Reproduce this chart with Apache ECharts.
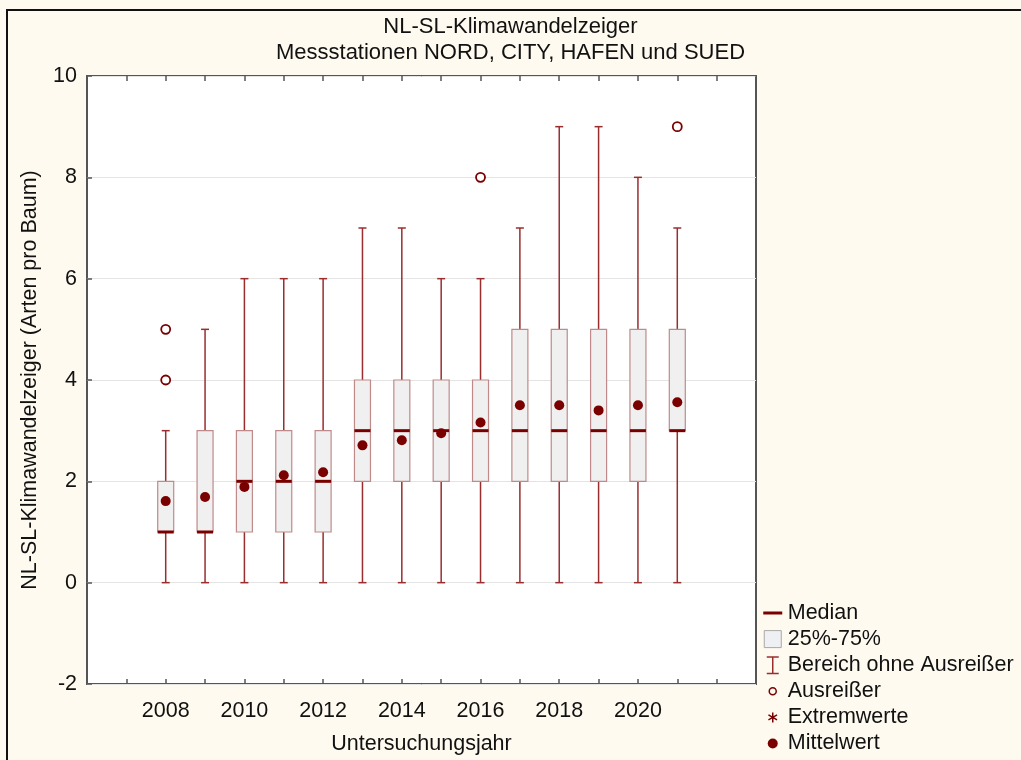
<!DOCTYPE html>
<html>
<head>
<meta charset="utf-8">
<script src="https://cdn.jsdelivr.net/npm/echarts@6/dist/echarts.min.js"></script>
<style>
  html, body { margin: 0; padding: 0; background: #fefaf0; }
  #chart { width: 1021px; height: 760px; }
</style>
</head>
<body>
<div id="chart"></div>
<script>
// Untersuchungsjahre und Kennwerte je Jahr
const years = [2008, 2009, 2010, 2011, 2012, 2013, 2014, 2015, 2016, 2017, 2018, 2019, 2020, 2021]
const mins = [0, 0, 0, 0, 0, 0, 0, 0, 0, 0, 0, 0, 0, 0]
const q1s = [1, 1, 1, 1, 1, 2, 2, 2, 2, 2, 2, 2, 2, 3]
const medians = [1, 1, 2, 2, 2, 3, 3, 3, 3, 3, 3, 3, 3, 3]
const q3s = [2, 3, 3, 3, 3, 4, 4, 4, 4, 5, 5, 5, 5, 5]
const maxs = [3, 5, 6, 6, 6, 7, 7, 6, 6, 7, 9, 9, 8, 7]
const means = [1.61, 1.69, 1.89, 2.12, 2.18, 2.71, 2.81, 2.95, 3.16, 3.5, 3.5, 3.4, 3.5, 3.56]
const outliers = [[2008, 4], [2008, 5], [2016, 8], [2021, 9]]
const extremes = []
const yTicks = [-2, 0, 2, 4, 6, 8, 10]

const font = 'Liberation Sans, Arial, sans-serif'
const fs = 21.5
const dark = '#7a0000'
const whisker = '#9a2e2e'
const boxHalf = 8
const capHalf = 4

const chart = echarts.init(document.getElementById('chart'))

const tickStyle = { show: true, inside: true, length: 5, lineStyle: { color: '#555', width: 1.5 } }

const option = {
  backgroundColor: '#fefaf0',
  textStyle: { fontFamily: font },
  graphic: [{
    type: 'rect',
    z: -10,
    shape: { x: 7, y: 10, width: 1030, height: 770 },
    style: { fill: '#fefaf0', stroke: '#111', lineWidth: 2 },
  }],
  title: {
    text: 'NL-SL-Klimawandelzeiger\nMessstationen NORD, CITY, HAFEN und SUED',
    left: 'center',
    top: 14,
    padding: 0,
    textStyle: { fontFamily: font, fontWeight: 'normal', fontSize: 22, lineHeight: 26, color: '#111' },
  },
  grid: {
    left: 87,
    top: 76,
    right: 265,
    bottom: 73,
    show: true,
    backgroundColor: '#fff',
    borderColor: '#555',
    borderWidth: 2,
  },
  legend: {
    orient: 'vertical',
    left: 762,
    top: 602,
    height: 170,
    padding: 0,
    itemWidth: 20,
    itemHeight: 20,
    itemGap: 4.1,
    selectedMode: false,
    textStyle: { fontFamily: font, fontSize: fs, color: '#111' },
    data: [
      { name: 'Median', icon: 'path://M0,0M20,20M0.5,8.5H19.5V11.5H0.5Z', itemStyle: { color: dark, borderWidth: 0 } },
      { name: '25%-75%', icon: 'path://M0,0M20,20M1.5,1.5H18.5V18.5H1.5Z', itemStyle: { color: '#eef0f4', borderColor: '#a8a8a8', borderWidth: 1 } },
      { name: 'Bereich ohne Ausreißer', icon: 'path://M0,0M20,20M4,1H16V2.5H10.75V17.5H16V19H4V17.5H9.25V2.5H4Z', itemStyle: { color: whisker, borderWidth: 0 } },
      { name: 'Ausreißer', icon: 'path://M0,0M20,20M10,6.5A3.5,3.5 0 1,1 9.99,6.5Z', itemStyle: { color: 'rgba(0,0,0,0)', borderColor: dark, borderWidth: 1.5 } },
      { name: 'Extremwerte', icon: 'path://M0,0M20,20M10,5V15M5.7,7.5L14.3,12.5M5.7,12.5L14.3,7.5', itemStyle: { color: 'rgba(0,0,0,0)', borderColor: dark, borderWidth: 1.5 } },
      { name: 'Mittelwert', icon: 'path://M0,0M20,20M10,5A5,5 0 1,1 9.99,5Z', itemStyle: { color: dark, borderWidth: 0 } },
    ],
  },
  xAxis: [{
    type: 'value',
    min: 2006,
    max: 2023,
    interval: 1,
    name: 'Untersuchungsjahr',
    nameLocation: 'middle',
    nameGap: 49,
    nameTextStyle: { fontFamily: font, fontSize: fs, color: '#111' },
    axisLine: { show: false, onZero: false },
    axisTick: tickStyle,
    axisLabel: {
      margin: 16,
      fontSize: fs,
      color: '#111',
      fontFamily: font,
      formatter: v => (v >= 2008 && v <= 2020 && v % 2 === 0) ? String(v) : '',
    },
    splitLine: { show: false },
  }, {
    type: 'value',
    position: 'top',
    min: 2006,
    max: 2023,
    interval: 1,
    axisLine: { show: false, onZero: false },
    axisTick: tickStyle,
    axisLabel: { show: false },
    splitLine: { show: false },
  }],
  yAxis: {
    type: 'value',
    min: yTicks[0],
    max: yTicks[yTicks.length - 1],
    interval: 2,
    name: 'NL-SL-Klimawandelzeiger (Arten pro Baum)',
    nameLocation: 'middle',
    nameGap: 46,
    nameTextStyle: { fontFamily: font, fontSize: fs, color: '#111' },
    axisLine: { show: false, onZero: false },
    axisTick: tickStyle,
    axisLabel: { margin: 10, fontSize: fs, color: '#111', fontFamily: font },
    splitLine: { show: true, lineStyle: { color: '#e4e4e4', width: 1 } },
  },
  series: [
    {
      name: 'Bereich ohne Ausreißer',
      type: 'custom',
      itemStyle: { color: whisker },
      encode: { x: 0, y: 1 },
      data: years.map((y, i) => [y, mins[i], maxs[i]]),
      renderItem(params, api) {
        const x = api.value(0)
        const lo = api.coord([x, api.value(1)])
        const hi = api.coord([x, api.value(2)])
        const style = { stroke: whisker, lineWidth: 1.5 }
        return {
          type: 'group',
          children: [
            { type: 'line', shape: { x1: lo[0], y1: lo[1], x2: hi[0], y2: hi[1] }, style },
            { type: 'line', shape: { x1: lo[0] - capHalf, y1: lo[1], x2: lo[0] + capHalf, y2: lo[1] }, style },
            { type: 'line', shape: { x1: hi[0] - capHalf, y1: hi[1], x2: hi[0] + capHalf, y2: hi[1] }, style },
          ],
        }
      },
    },
    {
      name: '25%-75%',
      type: 'custom',
      itemStyle: { color: '#f0f0f0' },
      encode: { x: 0, y: 1 },
      data: years.map((y, i) => [y, q1s[i], q3s[i]]),
      renderItem(params, api) {
        const x = api.value(0)
        const lo = api.coord([x, api.value(1)])
        const hi = api.coord([x, api.value(2)])
        return {
          type: 'rect',
          shape: { x: lo[0] - boxHalf, y: hi[1], width: boxHalf * 2, height: lo[1] - hi[1] },
          style: { fill: '#f0f0f0', stroke: '#c08a8a', lineWidth: 1.2 },
        }
      },
    },
    {
      name: 'Median',
      type: 'custom',
      itemStyle: { color: dark },
      encode: { x: 0, y: 1 },
      data: years.map((y, i) => [y, medians[i]]),
      renderItem(params, api) {
        const p = api.coord([api.value(0), api.value(1)])
        return {
          type: 'line',
          shape: { x1: p[0] - boxHalf, y1: p[1], x2: p[0] + boxHalf, y2: p[1] },
          style: { stroke: dark, lineWidth: 3 },
        }
      },
    },
    {
      name: 'Ausreißer',
      type: 'scatter',
      symbol: 'circle',
      symbolSize: 9,
      itemStyle: { color: '#fff', borderColor: dark, borderWidth: 1.8, opacity: 1 },
      data: outliers,
    },
    {
      name: 'Extremwerte',
      type: 'scatter',
      symbolSize: 9,
      itemStyle: { color: dark, opacity: 1 },
      data: extremes,
    },
    {
      name: 'Mittelwert',
      type: 'scatter',
      symbol: 'circle',
      symbolSize: 10,
      itemStyle: { color: dark, opacity: 1 },
      z: 5,
      data: years.map((y, i) => [y, means[i]]),
    },
  ],
}

chart.setOption(option)
</script>
</body>
</html>
